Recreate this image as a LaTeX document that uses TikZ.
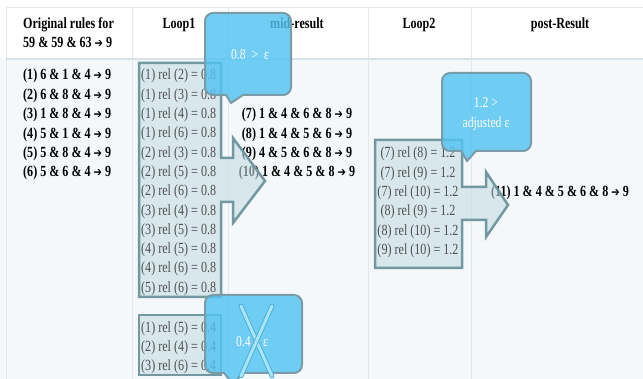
\documentclass[tikz,border=0pt]{standalone}
\usepackage{fontspec}
\setmainfont{Liberation Serif}[FakeStretch=0.78]
\newfontfamily\arrfont{DejaVu Sans}[FakeStretch=0.8]
\newcommand\rarr{{\arrfont\fontsize{12.5}{16}\selectfont ➔}}
\definecolor{bodybg}{HTML}{F4F8FA}
\definecolor{gridc}{HTML}{E1E9ED}
\definecolor{sepc}{HTML}{D6E2E8}
\definecolor{boxfill}{HTML}{C4DCE4}
\definecolor{boxline}{HTML}{7498A0}
\definecolor{callfill}{HTML}{52C3F1}
\definecolor{callline}{HTML}{7A9BA8}
\definecolor{relgray}{HTML}{505050}
\definecolor{xfill}{HTML}{A9E5F8}
\definecolor{xline}{HTML}{4AADD6}
\tikzset{
  hdr/.style={font=\bfseries\fontsize{15.5}{18}\selectfont, inner sep=0pt, anchor=base},
  hdrl/.style={hdr, anchor=base west},
  rulel/.style={font=\bfseries\fontsize{15.5}{18}\selectfont, inner sep=0pt, anchor=base west},
  rulec/.style={font=\bfseries\fontsize{15.5}{18}\selectfont, inner sep=0pt, anchor=base},
  rell/.style={font=\fontsize{15.5}{18}\selectfont, text=relgray, inner sep=0pt, anchor=base west},
  relc/.style={font=\fontsize{15.5}{18}\selectfont, text=relgray, inner sep=0pt, anchor=base},
  loopshape/.style={fill=boxfill, fill opacity=0.6, draw=boxline, draw opacity=1, line width=2.5pt, line join=miter},
  callout/.style={fill=callfill, fill opacity=0.82, draw=callline, draw opacity=1, line width=2pt},
  calltext/.style={font=\fontsize{15}{18}\selectfont, text=white, inner sep=0pt, anchor=base},
  gridline/.style={draw=gridc, line width=0.8pt},
}
\begin{document}
\begin{tikzpicture}[x=1pt,y=-1pt]
\useasboundingbox (0,0) rectangle (643,379);
% backgrounds
\fill[white] (0,0) rectangle (643,59);
\fill[bodybg] (0,59) rectangle (643,379);
% grid
\draw[gridline] (6,7) -- (643,7);
\foreach \gx in {6,132,228,368,471} \draw[gridline] (\gx,7) -- (\gx,379);
\draw[draw=sepc, line width=2.5pt] (6,59) -- (643,59);
% headers
\node[hdrl] (h1a) at (23,29) {Original rules for};
\node[hdrl] (h1b) at (23,48) {59 \& 59 \& 63 \rarr\ 9};
\node[hdr] (h2) at (179,29) {Loop1};
\node[hdr] (h3) at (297,29) {mid-result};
\node[hdr] (h4) at (419,29) {Loop2};
\node[hdr] (h5) at (560,29) {post-Result};
% original rules
\foreach \t [count=\i] in {{(1) 6 \& 1 \& 4 \rarr\ 9},{(2) 6 \& 8 \& 4 \rarr\ 9},{(3) 1 \& 8 \& 4 \rarr\ 9},{(4) 5 \& 1 \& 4 \rarr\ 9},{(5) 5 \& 8 \& 4 \rarr\ 9},{(6) 5 \& 6 \& 4 \rarr\ 9}}
  \node[rulel] (c\i) at (23,{80+19.4*(\i-1)}) {\t};
% mid results
\foreach \t [count=\i] in {{(7) 1 \& 4 \& 6 \& 8 \rarr\ 9},{(8) 1 \& 4 \& 5 \& 6 \rarr\ 9},{(9) 4 \& 5 \& 6 \& 8 \rarr\ 9},{(10) 1 \& 4 \& 5 \& 8 \rarr\ 9}}
  \node[rulec] (m\i) at (297,{119+19.3*(\i-1)}) {\t};
% post result
\node[rulec] (p1) at (560,197) {(11) 1 \& 4 \& 5 \& 6 \& 8 \rarr\ 9};
% loop shapes
\draw[loopshape] (139,63) -- (221,63) -- (221,158) -- (233,158) -- (233,138) -- (265,181) -- (233,223) -- (233,202) -- (221,202) -- (221,297) -- (139,297) -- cycle;
\draw[loopshape] (139,315) rectangle (221,375);
\draw[loopshape] (375,140) -- (462,140) -- (462,187) -- (486,187) -- (486,172) -- (508,205) -- (486,237) -- (486,220) -- (462,220) -- (462,268) -- (375,268) -- cycle;
% loop1 texts
\foreach \t [count=\i] in {{(1) rel (2)},{(1) rel (3)},{(1) rel (4)},{(1) rel (6)},{(2) rel (3)},{(2) rel (5)},{(2) rel (6)},{(3) rel (4)},{(3) rel (5)},{(4) rel (5)},{(4) rel (6)},{(5) rel (6)}}
  \node[rell] (a\i) at (141,{80+19.3*(\i-1)}) {\t\ = 0.8};
\foreach \t [count=\i] in {{(1) rel (5)},{(2) rel (4)},{(3) rel (6)}}
  \node[rell] (b\i) at (141,{333+19*(\i-1)}) {\t\ = 0.4};
% loop2 texts
\foreach \t [count=\i] in {{(7) rel (8)},{(7) rel (9)},{(7) rel (10)},{(8) rel (9)},{(8) rel (10)},{(9) rel (10)}}
  \node[relc] (d\i) at (418,{158+19.3*(\i-1)}) {\t\ = 1.2};
% callout 1
\draw[callout] (213,13) -- (283,13) arc[start angle=270,end angle=360,radius=8] -- (291,87) arc[start angle=0,end angle=90,radius=8] -- (243,95) -- (231,103) -- (226,95) -- (213,95) arc[start angle=90,end angle=180,radius=8] -- (205,21) arc[start angle=180,end angle=270,radius=8] -- cycle;
\node[calltext] (t1) at (250,60) {0.8 \ > \ ε};
% callout 2
\draw[callout] (450,73) -- (523,73) arc[start angle=270,end angle=360,radius=8] -- (531,143) arc[start angle=0,end angle=90,radius=8] -- (476,151) -- (467,161) -- (461,151) -- (450,151) arc[start angle=90,end angle=180,radius=8] -- (442,81) arc[start angle=180,end angle=270,radius=8] -- cycle;
\node[calltext] (t2a) at (486,108) {1.2 >};
\node[calltext] (t2b) at (486,128) {adjusted ε};
% callout 3
\draw[callout] (213,295) -- (294,295) arc[start angle=270,end angle=360,radius=8] -- (302,365) arc[start angle=0,end angle=90,radius=8] -- (243,373) -- (233,384) -- (224,373) -- (213,373) arc[start angle=90,end angle=180,radius=8] -- (205,303) arc[start angle=180,end angle=270,radius=8] -- cycle;
\node[calltext] (t3) at (252,347) {0.4 < ε};
\coordinate (x1) at (241,306);
\coordinate (x2) at (272,376);
\coordinate (x3) at (272,306);
\coordinate (x4) at (241,376);
\draw[draw=xline, line width=0.9pt, double=xfill, double distance=3pt, line cap=round] (x1) -- (x2);
\draw[draw=xline, line width=0.9pt, double=xfill, double distance=3pt, line cap=round] (x3) -- (x4);
\end{tikzpicture}
\end{document}
